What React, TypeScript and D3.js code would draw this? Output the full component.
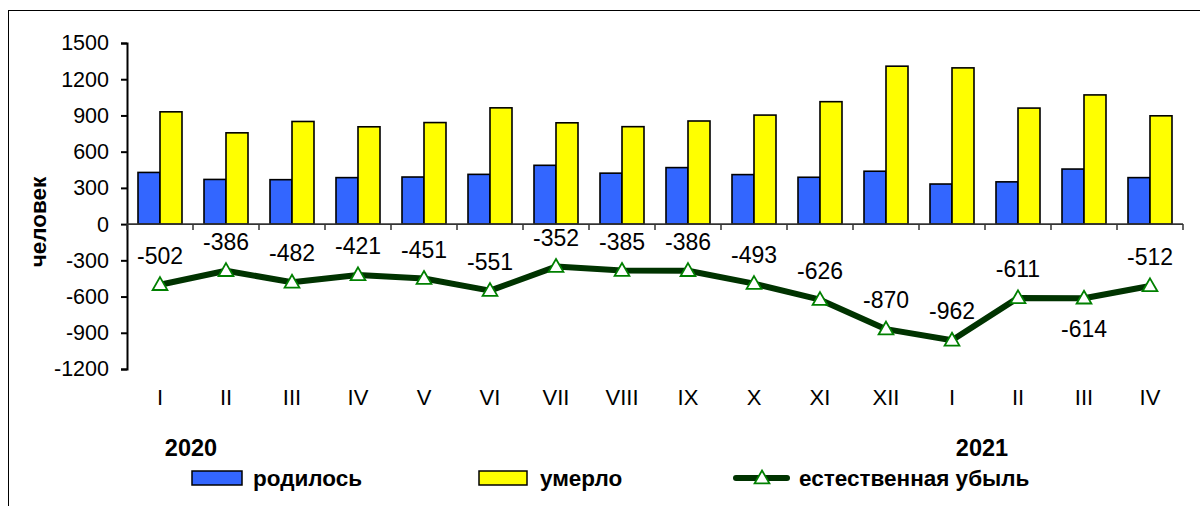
import React, { useEffect, useRef } from 'react';
import * as d3 from 'd3';

const months = ['I', 'II', 'III', 'IV', 'V', 'VI', 'VII', 'VIII', 'IX', 'X', 'XI', 'XII', 'I', 'II', 'III', 'IV'];
const born = [428, 370, 368, 385, 390, 412, 487, 422, 468, 410, 388, 438, 332, 350, 456, 385];
const died = [930, 756, 850, 806, 841, 963, 839, 807, 854, 903, 1014, 1308, 1294, 961, 1070, 897];
const decrease = [-502, -386, -482, -421, -451, -551, -352, -385, -386, -493, -626, -870, -962, -611, -614, -512];
const yTicks = [1500, 1200, 900, 600, 300, 0, -300, -600, -900, -1200];

const FONT = '"Liberation Sans", Arial, sans-serif';

const App = () => {
    const ref = useRef<SVGSVGElement>(null);

    useEffect(() => {
        const svg = d3.select(ref.current);
        svg.selectAll('*').remove();

        const left = 127, right = 1183, top = 43, bottom = 369;

        // outer frame
        svg.append('rect')
            .attr('x', 8.5).attr('y', 10.5)
            .attr('width', 1195).attr('height', 505)
            .attr('fill', 'white').attr('stroke', 'black').attr('stroke-width', 1);

        const idx = months.map((_, i) => String(i));
        const x = d3.scaleBand().domain(idx).range([left, right]);
        const inner = d3.scaleBand().domain(['b', 'd']).range([0, 44]);
        const y = d3.scaleLinear().domain([-1200, 1500]).range([bottom, top]);
        const off = (x.bandwidth() - 44) / 2;

        const g = svg.append('g');

        // bars
        idx.forEach((k, i) => {
            g.append('rect')
                .attr('x', x(k)! + off + inner('b')!)
                .attr('y', y(born[i]))
                .attr('width', inner.bandwidth())
                .attr('height', y(0) - y(born[i]))
                .attr('fill', '#3366ff').attr('stroke', 'black').attr('stroke-width', 1.6);
            g.append('rect')
                .attr('x', x(k)! + off + inner('d')!)
                .attr('y', y(died[i]))
                .attr('width', inner.bandwidth())
                .attr('height', y(0) - y(died[i]))
                .attr('fill', '#ffff00').attr('stroke', 'black').attr('stroke-width', 1.6);
        });

        // y axis
        const yAxis = g.append('g')
            .attr('transform', `translate(${left},0)`)
            .call(d3.axisLeft(y).tickValues(yTicks).tickSize(6).tickPadding(12).tickFormat(d => String(d)));
        yAxis.select('.domain').attr('stroke', 'black').attr('stroke-width', 2);
        yAxis.selectAll('.tick line').attr('stroke', 'black').attr('stroke-width', 2);
        yAxis.selectAll('.tick text').attr('font-family', FONT).attr('font-size', 21.5).attr('fill', 'black');

        // x axis at 0
        g.append('line')
            .attr('x1', left).attr('x2', right)
            .attr('y1', y(0)).attr('y2', y(0))
            .attr('stroke', '#333').attr('stroke-width', 1.6);
        g.selectAll('.xtick')
            .data(d3.range(months.length + 1))
            .enter().append('line')
            .attr('x1', i => left + i * x.step()).attr('x2', i => left + i * x.step())
            .attr('y1', y(0)).attr('y2', y(0) + 6)
            .attr('stroke', '#333').attr('stroke-width', 1.5);

        // month labels
        g.selectAll('.mlabel')
            .data(months)
            .enter().append('text')
            .attr('x', (_, i) => x(String(i))! + x.bandwidth() / 2)
            .attr('y', 405)
            .attr('text-anchor', 'middle')
            .attr('font-family', FONT).attr('font-size', 22)
            .text(d => d);

        // line
        const cx = (i: number) => x(String(i))! + x.bandwidth() / 2;
        const line = d3.line<number>().x((_, i) => cx(i)).y(d => y(d));
        g.append('path')
            .datum(decrease)
            .attr('d', line)
            .attr('fill', 'none').attr('stroke', '#003300').attr('stroke-width', 6)
            .attr('stroke-linejoin', 'round');

        const tri = d3.symbol().type(d3.symbolTriangle).size(95);
        g.selectAll('.marker')
            .data(decrease)
            .enter().append('path')
            .attr('d', tri)
            .attr('transform', (d, i) => `translate(${cx(i)},${y(d) + 1})`)
            .attr('fill', 'white').attr('stroke', '#008000').attr('stroke-width', 1.8);

        // data labels
        g.selectAll('.dlabel')
            .data(decrease)
            .enter().append('text')
            .attr('x', (_, i) => cx(i))
            .attr('y', (d, i) => (i === 14 ? y(d) + 39 : y(d) - 21))
            .attr('text-anchor', 'middle')
            .attr('font-family', FONT).attr('font-size', 23)
            .text(d => d);

        // y title
        svg.append('text')
            .attr('transform', 'translate(46,222) rotate(-90)')
            .attr('text-anchor', 'middle')
            .attr('font-family', FONT).attr('font-size', 22.5).attr('font-weight', 'bold')
            .text('человек');

        // years
        svg.append('text').attr('x', 191).attr('y', 456).attr('text-anchor', 'middle')
            .attr('font-family', FONT).attr('font-size', 23.5).attr('font-weight', 'bold').text('2020');
        svg.append('text').attr('x', 982).attr('y', 456).attr('text-anchor', 'middle')
            .attr('font-family', FONT).attr('font-size', 23.5).attr('font-weight', 'bold').text('2021');

        // legend
        const lg = svg.append('g');
        lg.append('rect').attr('x', 192).attr('y', 471).attr('width', 50).attr('height', 14)
            .attr('fill', '#3366ff').attr('stroke', 'black').attr('stroke-width', 1.5);
        lg.append('text').attr('x', 253).attr('y', 486).attr('font-family', FONT)
            .attr('font-size', 22.5).attr('font-weight', 'bold').text('родилось');
        lg.append('rect').attr('x', 479).attr('y', 471).attr('width', 48).attr('height', 14)
            .attr('fill', '#ffff00').attr('stroke', 'black').attr('stroke-width', 1.5);
        lg.append('text').attr('x', 540).attr('y', 486).attr('font-family', FONT)
            .attr('font-size', 22.5).attr('font-weight', 'bold').text('умерло');
        lg.append('line').attr('x1', 736).attr('x2', 787).attr('y1', 478).attr('y2', 478)
            .attr('stroke', '#003300').attr('stroke-width', 6).attr('stroke-linecap', 'round');
        lg.append('path').attr('d', tri).attr('transform', 'translate(762,479)')
            .attr('fill', 'white').attr('stroke', '#008000').attr('stroke-width', 1.8);
        lg.append('text').attr('x', 799).attr('y', 486).attr('font-family', FONT)
            .attr('font-size', 22.5).attr('font-weight', 'bold').text('естественная убыль');
    }, []);

    return (
        <svg ref={ref} width={1200} height={506} style={{ position: 'absolute', left: 0, top: 0 }} />
    );
};

export default App;
